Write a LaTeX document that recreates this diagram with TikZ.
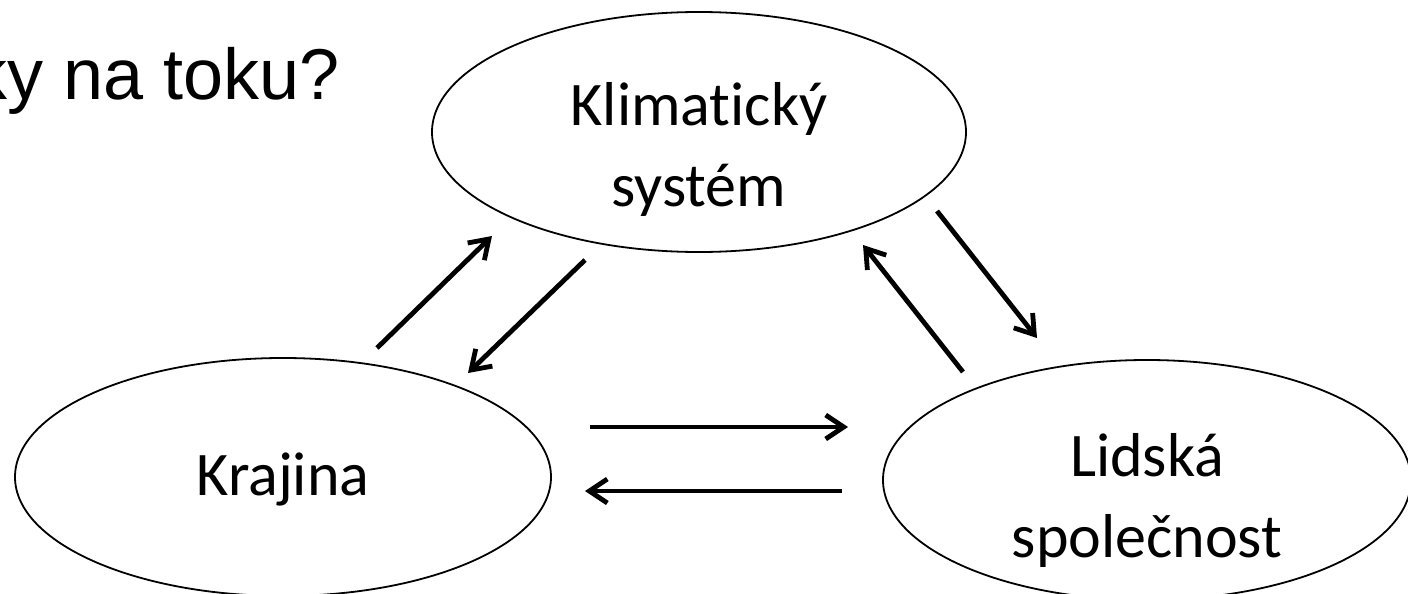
\documentclass[tikz,border=0pt]{standalone}
\usepackage{fontspec}
\setmainfont{Carlito}[Ligatures=NoCommon]
\newfontfamily\arialfont{Liberation Sans}
\usetikzlibrary{shapes.geometric, arrows.meta}

\begin{document}
\begin{tikzpicture}[x=0.5pt, y=-0.5pt,
		oval/.style={draw=black, line width=0.9pt, ellipse, inner sep=0pt},
		oval text/.style={align=center, inner sep=0pt, font=\fontsize{31}{40.5}\selectfont},
		flow/.style={line width=2.4pt, -{Straight Barb[length=9pt, width=12pt]}}
		]
		\useasboundingbox (0,0) rectangle (1408,594);
		
		\node[anchor=base east, inner sep=0pt, font=\arialfont\fontsize{36}{43}\selectfont] (question) at (340,99) {ky na toku?};
		
		\node[oval, minimum width=267pt, minimum height=120pt] (klima) at (699,132) {};
		\node[oval, minimum width=268pt, minimum height=119pt] (krajina) at (283,477) {};
		\node[oval, minimum width=264pt, minimum height=120pt] (spolecnost) at (1147,480) {};
		
		\node[oval text] (klimatext) at ([yshift=-8.5pt]klima.center) {Klimatický\\systém};
		\node[oval text] (krajinatext) at ([yshift=-1pt]krajina.center) {Krajina};
		\node[oval text] (spolecnosttext) at ([yshift=-10pt]spolecnost.center) {Lidská\\společnost};
		
		\coordinate (krajUp) at (377,348);
		\coordinate (klimaDownL) at (492,236);
		\coordinate (klimaOutL) at (585,260);
		\coordinate (krajIn) at (468,373);
		\coordinate (spolUp) at (963,372);
		\coordinate (klimaDownR) at (863,245);
		\coordinate (klimaOutR) at (937,211);
		\coordinate (spolIn) at (1037,338);
		\coordinate (krajOutH) at (590,427);
		\coordinate (spolInH) at (848,427);
		\coordinate (spolOutH) at (842,491);
		\coordinate (krajInH) at (585,491);
		
		\draw[flow] (krajUp) -- (klimaDownL);
		\draw[flow] (klimaOutL) -- (krajIn);
		\draw[flow] (spolUp) -- (klimaDownR);
		\draw[flow] (klimaOutR) -- (spolIn);
		\draw[flow] (krajOutH) -- (spolInH);
		\draw[flow] (spolOutH) -- (krajInH);
\end{tikzpicture}
\end{document}
